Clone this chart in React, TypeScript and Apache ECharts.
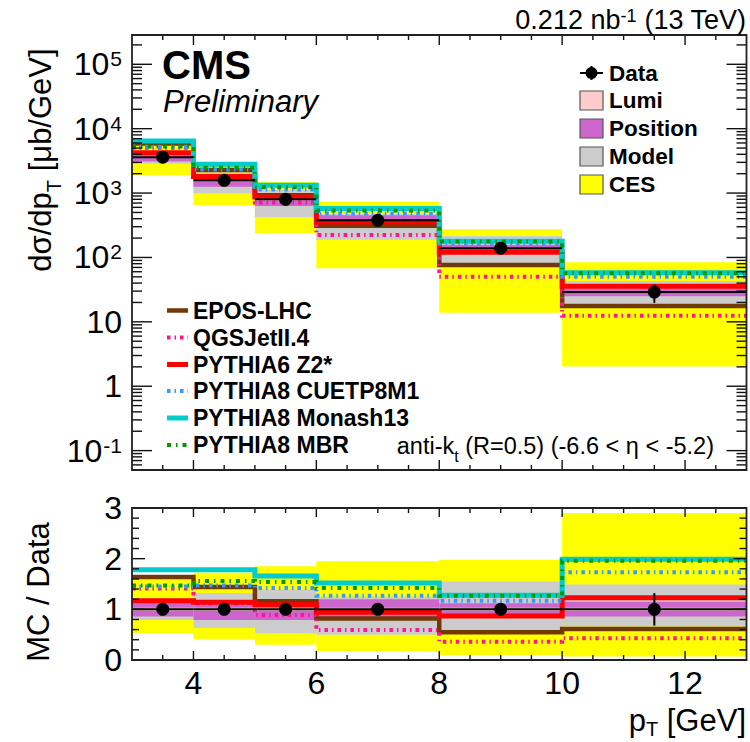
import React, { useEffect, useRef } from 'react';
import * as echarts from 'echarts';

// ---------------- data ----------------
const BIN_LO = [3, 4, 5, 6, 8, 10];
const BIN_HI = [4, 5, 6, 8, 10, 13];
const DATA_XSEC = [3600, 1580, 800, 378, 139, 29];
const DATA_STAT_REL = [0.03, 0.03, 0.03, 0.04, 0.06, 0.32];

// systematic bands, relative to data
const LUMI_LO = [0.97, 0.97, 0.97, 0.97, 0.97, 0.97];
const LUMI_HI = [1.03, 1.03, 1.03, 1.03, 1.03, 1.03];
const POS_LO = [0.86, 0.79, 0.79, 0.84, 0.86, 0.86];
const POS_HI = [1.13, 1.1, 1.08, 1.2, 1.12, 1.15];
const MODEL_LO = [0.79, 0.63, 0.53, 0.5, 0.59, 0.66];
const MODEL_HI = [1.21, 1.32, 1.39, 1.25, 1.55, 1.49];
const CES_LO = [0.53, 0.41, 0.3, 0.18, 0.1, 0.07];
const CES_HI = [1.62, 1.72, 1.85, 1.95, 1.98, 2.9];

// MC / Data ratios
const EPOS_RATIO = [1.64, 1.44, 1.16, 0.82, 0.55, 0.61];
const QGSJET_RATIO = [1.41, 1.12, 0.89, 0.59, 0.36, 0.43];
const PYTHIA6_RATIO = [1.17, 1.14, 1.09, 0.94, 0.87, 1.23];
const CUETP8M1_RATIO = [1.45, 1.47, 1.42, 1.27, 1.17, 1.73];
const MONASH_RATIO = [1.78, 1.78, 1.66, 1.52, 1.28, 1.99];
const MBR_RATIO = [1.47, 1.56, 1.54, 1.42, 1.27, 1.96];

// ticks / labels
const X_LABELS = [4, 6, 8, 10, 12];
const X_MINOR_TICKS = [3.5, 4.5, 5, 5.5, 6.5, 7, 7.5, 8.5, 9, 9.5, 10.5, 11, 11.5, 12.5];
const LOG_DECADES = [0.1, 1, 10, 100, 1000, 10000, 100000];
const LOG_MINOR_MULT = [2, 3, 4, 5, 6, 7, 8, 9];
const RATIO_LABELS = [0, 1, 2, 3];
const RATIO_MINOR_TICKS = [0.2, 0.4, 0.6, 0.8, 1.2, 1.4, 1.6, 1.8, 2.2, 2.4, 2.6, 2.8];

const Y_MIN = 0.05;
const Y_MAX = 2.85e5;

const FONT = '"Liberation Sans", Arial, Helvetica, sans-serif';

const MC = [
  { name: 'EPOS-LHC', ratio: EPOS_RATIO, color: '#703a08', width: 4.5, dash: 'solid' as any },
  { name: 'QGSJetII.4', ratio: QGSJET_RATIO, color: '#ff1493', width: 4, dash: [3.5, 4, 1.5, 4] },
  { name: 'PYTHIA6 Z2*', ratio: PYTHIA6_RATIO, color: '#ff0000', width: 5, dash: 'solid' as any },
  { name: 'PYTHIA8 CUETP8M1', ratio: CUETP8M1_RATIO, color: '#3399ff', width: 4, dash: [3.5, 4, 1.5, 4] },
  { name: 'PYTHIA8 Monash13', ratio: MONASH_RATIO, color: '#00cccc', width: 5, dash: 'solid' as any },
  { name: 'PYTHIA8 MBR', ratio: MBR_RATIO, color: '#009900', width: 4, dash: [4, 5, 1.5, 5] },
];

const BANDS = [
  { name: 'CES', lo: CES_LO, hi: CES_HI, color: '#ffff00' },
  { name: 'Model', lo: MODEL_LO, hi: MODEL_HI, color: '#cccccc' },
  { name: 'Position', lo: POS_LO, hi: POS_HI, color: '#cc66cc' },
  { name: 'Lumi', lo: LUMI_LO, hi: LUMI_HI, color: '#ffcccc' },
];

function bandSeries(b: any, xi: number, yi: number, top: boolean) {
  const data = BIN_LO.map((x0, i) => {
    const f = top ? DATA_XSEC[i] : 1;
    return [x0, BIN_HI[i], b.lo[i] * f, b.hi[i] * f];
  });
  return {
    type: 'custom',
    name: b.name,
    xAxisIndex: xi,
    yAxisIndex: yi,
    z: 2,
    silent: true,
    data,
    encode: { x: [0, 1], y: [2, 3] },
    renderItem: (params: any, api: any) => {
      const p0 = api.coord([api.value(0), api.value(3)]);
      const p1 = api.coord([api.value(1), api.value(2)]);
      return {
        type: 'rect',
        shape: { x: p0[0], y: p0[1], width: p1[0] - p0[0], height: p1[1] - p0[1] },
        style: { fill: b.color },
      };
    },
  };
}

function mcSeries(m: any, xi: number, yi: number, top: boolean) {
  const pts: number[][] = [];
  BIN_LO.forEach((x0, i) => {
    const v = m.ratio[i] * (top ? DATA_XSEC[i] : 1);
    pts.push([x0, v], [BIN_HI[i], v]);
  });
  return {
    type: 'line',
    name: m.name,
    xAxisIndex: xi,
    yAxisIndex: yi,
    z: 4,
    silent: true,
    symbol: 'none',
    showSymbol: false,
    data: pts,
    lineStyle: { color: m.color, width: m.width, type: m.dash, cap: 'butt', join: 'miter' },
  };
}

function dataSeries(xi: number, yi: number, top: boolean) {
  const data = BIN_LO.map((x0, i) => {
    const v = top ? DATA_XSEC[i] : 1;
    return [x0, BIN_HI[i], v, v * DATA_STAT_REL[i]];
  });
  return {
    type: 'custom',
    name: 'Data',
    xAxisIndex: xi,
    yAxisIndex: yi,
    z: 6,
    silent: true,
    data,
    encode: { x: [0, 1], y: 2 },
    renderItem: (params: any, api: any) => {
      const x0 = api.value(0);
      const x1 = api.value(1);
      const v = api.value(2);
      const e = api.value(3);
      const xc = (x0 + x1) / 2;
      const pl = api.coord([x0, v]);
      const pr = api.coord([x1, v]);
      const pc = api.coord([xc, v]);
      const pu = api.coord([xc, v + e]);
      const pd = api.coord([xc, v - e]);
      const st = { stroke: '#000', lineWidth: 2 };
      return {
        type: 'group',
        children: [
          { type: 'line', shape: { x1: pl[0], y1: pl[1], x2: pr[0], y2: pr[1] }, style: st },
          { type: 'line', shape: { x1: pu[0], y1: pu[1], x2: pd[0], y2: pd[1] }, style: st },
          { type: 'circle', shape: { cx: pc[0], cy: pc[1], r: 6.5 }, style: { fill: '#000' } },
        ],
      };
    },
  };
}

// kind: 0 x-major, 1 x-minor, 2 y-major, 3 y-minor, 4 frame
function tickSeries(xi: number, yi: number, yRef: number, yMajor: number[], yMinor: number[], lens: number[]) {
  const items: number[][] = [];
  X_LABELS.forEach((v) => items.push([v, yRef, 0]));
  X_MINOR_TICKS.forEach((v) => items.push([v, yRef, 1]));
  yMajor.forEach((v) => items.push([3, v, 2]));
  yMinor.forEach((v) => items.push([3, v, 3]));
  items.push([3, yRef, 4]);
  return {
    type: 'custom',
    xAxisIndex: xi,
    yAxisIndex: yi,
    z: 10,
    silent: true,
    data: items,
    encode: { x: 0, y: 1 },
    renderItem: (params: any, api: any) => {
      const cs = params.coordSys;
      const kind = api.value(2);
      const st = { stroke: '#111', lineWidth: 1.4 };
      if (kind === 4) {
        return {
          type: 'rect',
          shape: { x: cs.x, y: cs.y, width: cs.width, height: cs.height },
          style: { fill: 'none', stroke: '#222', lineWidth: 1.8 },
        };
      }
      if (kind <= 1) {
        const len = lens[kind];
        const x = api.coord([api.value(0), api.value(1)])[0];
        const yb = cs.y + cs.height;
        const yt = cs.y;
        return {
          type: 'group',
          children: [
            { type: 'line', shape: { x1: x, y1: yb, x2: x, y2: yb - len }, style: st },
            { type: 'line', shape: { x1: x, y1: yt, x2: x, y2: yt + len }, style: st },
          ],
        };
      }
      const len = lens[kind];
      const y = api.coord([api.value(0), api.value(1)])[1];
      const xl = cs.x;
      const xr = cs.x + cs.width;
      return {
        type: 'group',
        children: [
          { type: 'line', shape: { x1: xl, y1: y, x2: xl + len, y2: y }, style: st },
          { type: 'line', shape: { x1: xr, y1: y, x2: xr - len, y2: y }, style: st },
        ],
      };
    },
  };
}

function buildOption() {
  const logMinor: number[] = [];
  [0.01, 0.1, 1, 10, 100, 1000, 10000, 100000].forEach((d) =>
    LOG_MINOR_MULT.forEach((m) => {
      const v = m * d;
      if (v > Y_MIN * 0.999 && v < Y_MAX) logMinor.push(v);
    })
  );

  const lblRich = {
    b: { fontFamily: FONT, fontSize: 32, color: '#000' },
    s: { fontFamily: FONT, fontSize: 21, color: '#000', verticalAlign: 'top', padding: [0, 0, 0, 1] },
  };

  const series: any[] = [];
  BANDS.forEach((b) => series.push(bandSeries(b, 0, 0, true)));
  BANDS.forEach((b) => series.push(bandSeries(b, 1, 1, false)));
  MC.forEach((m) => series.push(mcSeries(m, 0, 0, true)));
  MC.forEach((m) => series.push(mcSeries(m, 1, 1, false)));
  series.push(dataSeries(0, 0, true));
  series.push(dataSeries(1, 1, false));
  series.push(tickSeries(0, 0, 1, LOG_DECADES, logMinor, [10, 5, 20, 10]));
  series.push(tickSeries(1, 1, 1, RATIO_LABELS.slice(1, 3), RATIO_MINOR_TICKS, [9, 5, 13, 7]));

  const g: any[] = [];
  const T = (x: number, y: number, text: string, font: string, extra: any = {}) => ({
    type: 'text',
    x,
    y,
    z: 30,
    style: { text, font, fill: '#000', align: 'left', verticalAlign: 'middle', textAlign: 'left', textVerticalAlign: 'middle', ...extra },
  });

  // top-right legend
  const LX = 580;
  const legRows = [73, 100.5, 128.5, 156.5, 184.5];
  g.push({ type: 'line', z: 30, shape: { x1: LX, y1: legRows[0], x2: LX + 23, y2: legRows[0] }, style: { stroke: '#000', lineWidth: 2 } });
  g.push({ type: 'line', z: 30, shape: { x1: LX + 11.5, y1: legRows[0] - 7, x2: LX + 11.5, y2: legRows[0] + 7 }, style: { stroke: '#000', lineWidth: 2 } });
  g.push({ type: 'circle', z: 30, shape: { cx: LX + 11.5, cy: legRows[0], r: 6 }, style: { fill: '#000' } });
  g.push(T(609, legRows[0], 'Data', `bold 22.5px ${FONT}`));
  const legBands = [BANDS[3], BANDS[2], BANDS[1], BANDS[0]];
  legBands.forEach((b, k) => {
    const y = legRows[k + 1];
    g.push({ type: 'rect', z: 30, shape: { x: LX, y: y - 9.5, width: 23, height: 19 }, style: { fill: b.color, stroke: '#555', lineWidth: 1.2 } });
    g.push(T(609, y, b.name, `bold 22.5px ${FONT}`));
  });

  // bottom-left legend
  const mcRows = [310.5, 337.5, 364.5, 391, 418, 445];
  MC.forEach((m, k) => {
    const y = mcRows[k];
    g.push({
      type: 'line',
      z: 30,
      shape: { x1: 167, y1: y, x2: 188, y2: y },
      style: { stroke: m.color, lineWidth: m.width, lineDash: Array.isArray(m.dash) ? m.dash : null },
    });
    g.push(T(193, y, m.name, `bold 23px ${FONT}`));
  });

  // CMS labels
  g.push(T(162, 65, 'CMS', `bold 40px ${FONT}`));
  g.push(T(163, 101, 'Preliminary', `italic 31px ${FONT}`));

  // lumi label
  g.push({
    type: 'text',
    x: 746,
    y: 20,
    z: 30,
    style: {
      text: '{a|0.212 nb}{s|-1}{a| (13 TeV)}',
      align: 'right',
      textAlign: 'right',
      verticalAlign: 'middle',
      textVerticalAlign: 'middle',
      rich: {
        a: { fontFamily: FONT, fontSize: 27, fill: '#000', color: '#000' },
        s: { fontFamily: FONT, fontSize: 18, fill: '#000', color: '#000', verticalAlign: 'top' },
      },
    },
  });

  // jet selection text
  g.push({
    type: 'text',
    x: 714,
    y: 446,
    z: 30,
    style: {
      text: '{a|anti-k}{t|t}{a| (R=0.5) (-6.6 < η < -5.2)}',
      align: 'right',
      textAlign: 'right',
      verticalAlign: 'middle',
      textVerticalAlign: 'middle',
      rich: {
        a: { fontFamily: FONT, fontSize: 23.5, fill: '#000', color: '#000' },
        t: { fontFamily: FONT, fontSize: 16, fill: '#000', color: '#000', verticalAlign: 'bottom', padding: [0, 0, -6, 0] },
      },
    },
  });

  // axis titles
  g.push({
    type: 'text',
    x: 40,
    y: 160,
    z: 30,
    rotation: Math.PI / 2,
    style: {
      text: '{a|dσ/dp}{t|T}{a| [μb/GeV]}',
      align: 'center',
      textAlign: 'center',
      verticalAlign: 'middle',
      textVerticalAlign: 'middle',
      rich: {
        a: { fontFamily: FONT, fontSize: 31, fill: '#000', color: '#000' },
        t: { fontFamily: FONT, fontSize: 20, fill: '#000', color: '#000', verticalAlign: 'bottom', padding: [0, 0, -8, 0] },
      },
    },
  });
  g.push({
    type: 'text',
    x: 38,
    y: 592,
    z: 30,
    rotation: Math.PI / 2,
    style: {
      text: 'MC / Data',
      font: `31px ${FONT}`,
      fill: '#000',
      align: 'center',
      textAlign: 'center',
      verticalAlign: 'middle',
      textVerticalAlign: 'middle',
    },
  });
  g.push({
    type: 'text',
    x: 746,
    y: 720,
    z: 30,
    style: {
      text: '{a|p}{t|T}{a| [GeV]}',
      align: 'right',
      textAlign: 'right',
      verticalAlign: 'middle',
      textVerticalAlign: 'middle',
      rich: {
        a: { fontFamily: FONT, fontSize: 31, lineHeight: 28, fill: '#000', color: '#000' },
        t: { fontFamily: FONT, fontSize: 20, lineHeight: 18, fill: '#000', color: '#000', verticalAlign: 'bottom', padding: [0, 0, -5, 0] },
      },
    },
  });

  return {
    animation: false,
    backgroundColor: '#ffffff',
    grid: [
      { left: 132, top: 35, width: 614.5, height: 435, containLabel: false },
      { left: 132, top: 508, width: 614.5, height: 152, containLabel: false },
    ],
    xAxis: [
      {
        type: 'value', gridIndex: 0, min: 3, max: 13, interval: 1,
        axisLine: { show: false }, axisTick: { show: false }, splitLine: { show: false }, axisLabel: { show: false },
      },
      {
        type: 'value', gridIndex: 1, min: 3, max: 13, interval: 1,
        axisLine: { show: false }, axisTick: { show: false }, splitLine: { show: false },
        axisLabel: {
          show: true, margin: 7, color: '#000', fontFamily: FONT, fontSize: 32, lineHeight: 32,
          formatter: (v: number) => (X_LABELS.indexOf(v) >= 0 ? String(v) : ''),
        },
      },
    ],
    yAxis: [
      {
        type: 'log', gridIndex: 0, logBase: 10, min: Y_MIN, max: Y_MAX,
        axisLine: { show: false }, axisTick: { show: false }, splitLine: { show: false },
        axisLabel: {
          show: true, margin: 10, color: '#000', showMinLabel: false, showMaxLabel: false,
          formatter: (v: number) => {
            const l = Math.log10(v);
            const e = Math.round(l);
            if (Math.abs(l - e) > 1e-6) return '';
            if (e < -1 || e > 5) return '';
            if (e === 0) return '{b|1}';
            if (e === 1) return '{b|10}';
            return `{b|10}{s|${e}}`;
          },
          rich: lblRich,
        },
      },
      {
        type: 'value', gridIndex: 1, min: 0, max: 3, interval: 1,
        axisLine: { show: false }, axisTick: { show: false }, splitLine: { show: false },
        axisLabel: {
          show: true, margin: 10, color: '#000', fontFamily: FONT, fontSize: 32,
          formatter: (v: number) => (RATIO_LABELS.indexOf(v) >= 0 ? String(v) : ''),
        },
      },
    ],
    graphic: g,
    series,
  };
}

export default function App() {
  const ref = useRef<HTMLDivElement>(null);
  useEffect(() => {
    const chart = echarts.init(ref.current as HTMLDivElement, null, { renderer: 'svg' });
    chart.setOption(buildOption() as any);
    return () => chart.dispose();
  }, []);
  return (
    <div
      ref={ref}
      style={{ position: 'absolute', left: 0, top: 0, width: 750, height: 742, background: '#ffffff' }}
    />
  );
}
